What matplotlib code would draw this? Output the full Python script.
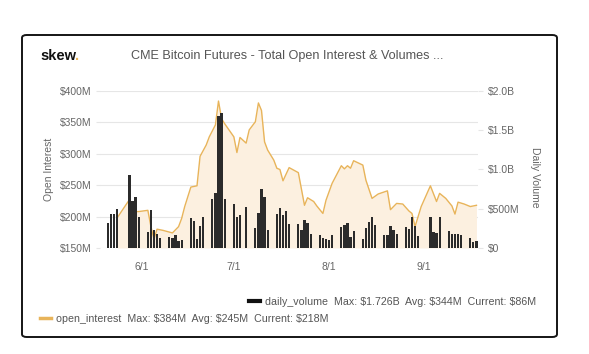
import matplotlib
matplotlib.use('Agg')
import matplotlib.pyplot as plt
from matplotlib.patches import FancyBboxPatch
from matplotlib.lines import Line2D
import pandas as pd

plt.rcParams['font.family'] = ['Liberation Sans', 'DejaVu Sans']

# daily volume ($M), trading days only
vol_dates = [
    '2019-05-21', '2019-05-22', '2019-05-23', '2019-05-24',
    '2019-05-28', '2019-05-29', '2019-05-30', '2019-05-31',
    '2019-06-03', '2019-06-04', '2019-06-05', '2019-06-06', '2019-06-07',
    '2019-06-10', '2019-06-11', '2019-06-12', '2019-06-13', '2019-06-14',
    '2019-06-17', '2019-06-18', '2019-06-19', '2019-06-20', '2019-06-21',
    '2019-06-24', '2019-06-25', '2019-06-26', '2019-06-27', '2019-06-28',
    '2019-07-01', '2019-07-02', '2019-07-03', '2019-07-05',
    '2019-07-08', '2019-07-09', '2019-07-10', '2019-07-11', '2019-07-12',
    '2019-07-15', '2019-07-16', '2019-07-17', '2019-07-18', '2019-07-19',
    '2019-07-22', '2019-07-23', '2019-07-24', '2019-07-25', '2019-07-26',
    '2019-07-29', '2019-07-30', '2019-07-31', '2019-08-01', '2019-08-02',
    '2019-08-05', '2019-08-06', '2019-08-07', '2019-08-08', '2019-08-09',
    '2019-08-12', '2019-08-13', '2019-08-14', '2019-08-15', '2019-08-16',
    '2019-08-19', '2019-08-20', '2019-08-21', '2019-08-22', '2019-08-23',
    '2019-08-26', '2019-08-27', '2019-08-28', '2019-08-29', '2019-08-30',
    '2019-09-03', '2019-09-04', '2019-09-05', '2019-09-06',
    '2019-09-09', '2019-09-10', '2019-09-11', '2019-09-12', '2019-09-13',
    '2019-09-16', '2019-09-17', '2019-09-18',
]
vol_values = [
    323, 437, 429, 501,
    926, 603, 654, 399,
    200, 484, 229, 178, 127,
    140, 132, 170, 93, 102,
    382, 348, 115, 285, 391,
    628, 696, 1686, 1726, 624,
    560, 395, 416, 527,
    255, 442, 756, 654, 229,
    433, 505, 425, 476, 301,
    310, 234, 361, 323, 178,
    166, 123, 119, 106, 170,
    272, 289, 314, 144, 217,
    110, 251, 331, 399, 293,
    166, 161, 280, 225, 178,
    263, 238, 399, 280, 157,
    399, 204, 195, 391,
    221, 178, 178, 174, 170,
    132, 81, 86,
]

# open interest ($M)
oi_dates = [
    '2019-05-24', '2019-05-28', '2019-05-29', '2019-05-31', '2019-06-03',
    '2019-06-04', '2019-06-05', '2019-06-06', '2019-06-08', '2019-06-11',
    '2019-06-13', '2019-06-14', '2019-06-15', '2019-06-17', '2019-06-19',
    '2019-06-20', '2019-06-22', '2019-06-23', '2019-06-25', '2019-06-26',
    '2019-06-27', '2019-06-28', '2019-06-29', '2019-07-01', '2019-07-02',
    '2019-07-03', '2019-07-05', '2019-07-06', '2019-07-08', '2019-07-09',
    '2019-07-10', '2019-07-11', '2019-07-12', '2019-07-14', '2019-07-15',
    '2019-07-16', '2019-07-17', '2019-07-19', '2019-07-22', '2019-07-24',
    '2019-07-25', '2019-07-27', '2019-07-28', '2019-07-30', '2019-07-31',
    '2019-08-02', '2019-08-05', '2019-08-06', '2019-08-07', '2019-08-08',
    '2019-08-09', '2019-08-12', '2019-08-13', '2019-08-15', '2019-08-17',
    '2019-08-20', '2019-08-21', '2019-08-23', '2019-08-25', '2019-08-27',
    '2019-08-28', '2019-08-29', '2019-08-31', '2019-09-03', '2019-09-05',
    '2019-09-06', '2019-09-08', '2019-09-10', '2019-09-11', '2019-09-12',
    '2019-09-14', '2019-09-16', '2019-09-18',
]
oi_values = [
    198, 227, 208, 208, 210,
    184, 164, 180, 178, 174,
    184, 197, 216, 247, 249,
    296, 314, 327, 346, 384,
    356, 348, 341, 327, 302,
    326, 317, 338, 351, 381,
    369, 319, 306, 290, 277,
    275, 257, 278, 270, 218,
    230, 224, 217, 205, 226,
    253, 281, 276, 281, 277,
    289, 282, 258, 229, 236,
    241, 211, 221, 220, 209,
    205, 184, 216, 249, 224,
    237, 229, 217, 204, 223,
    220, 216, 218,
]

oi_ticks = [150, 200, 250, 300, 350, 400]
oi_tick_labels = ['$150M', '$200M', '$250M', '$300M', '$350M', '$400M']
vol_ticks = [0, 500, 1000, 1500, 2000]
vol_tick_labels = ['$0', '$500M', '$1.0B', '$1.5B', '$2.0B']
x_ticks = ['2019-06-01', '2019-07-01', '2019-08-01', '2019-09-01']
x_tick_labels = ['6/1', '7/1', '8/1', '9/1']

vol_d = pd.to_datetime(vol_dates)
oi_d = pd.to_datetime(oi_dates)

W, H = 589, 354
fig = plt.figure(figsize=(W / 100, H / 100), dpi=100)
fig.patch.set_facecolor('white')

card = FancyBboxPatch((22 / W, 1 - 337 / H), (557 - 22) / W, (337 - 35) / H,
                      boxstyle='round,pad=0,rounding_size=0.008',
                      transform=fig.transFigure, fill=False,
                      edgecolor='#151515', linewidth=1.4)
fig.patches.append(card)

line_c = '#E8B45A'
fill_c = '#FCF0E0'
bar_c = '#2B2B2B'
text_c = '#666666'
grid_c = '#E6E6E6'

ax = fig.add_axes([100 / W, 1 - 248 / H, 378 / W, 157 / H])
ax2 = ax.twinx()

# open interest: area + line
ax.fill_between(oi_d, oi_values, 150, color=fill_c, linewidth=0, zorder=1)
oi_line, = ax.plot(oi_d, oi_values, color=line_c, linewidth=1.0, zorder=2)
ax.set_ylim(150, 400)
ax.set_yticks(oi_ticks)
ax.set_yticklabels(oi_tick_labels)
ax.grid(axis='y', color=grid_c, linewidth=0.8)
ax.set_axisbelow(True)

# volume bars
ax2.bar(vol_d, vol_values, width=0.72, color=bar_c, linewidth=0, zorder=3)
ax2.set_ylim(0, 2000)
ax2.set_yticks(vol_ticks)
ax2.set_yticklabels(vol_tick_labels)

ax.set_xlim(pd.Timestamp('2019-05-18 10:00'), pd.Timestamp('2019-09-18 12:00'))
ax.set_xticks(pd.to_datetime(x_ticks))
ax.set_xticklabels(x_tick_labels)

for a in (ax, ax2):
    for s in a.spines.values():
        s.set_visible(False)
ax.tick_params(axis='y', length=3, color=grid_c, pad=3, labelsize=7.5, labelcolor=text_c)
ax2.tick_params(axis='y', length=3.5, color=grid_c, pad=3.5, labelsize=7.5, labelcolor=text_c)
ax.tick_params(axis='x', length=0, pad=10, labelsize=7.5, labelcolor=text_c)

fig.text(49 / W, 1 - 169 / H, 'Open Interest', rotation=90, ha='center', va='center',
         fontsize=7.5, color=text_c)
fig.text(535 / W, 1 - 177 / H, 'Daily Volume', rotation=270, ha='center', va='center',
         fontsize=7.5, color=text_c)

# header
logo = fig.text(40 / W, 1 - 56 / H, 'skew', fontsize=10.5, fontweight='bold',
                color='#111111', ha='left', va='center')
fig.canvas.draw()
bb = logo.get_window_extent()
fig.text((bb.x1 - 1.5) / W, 1 - 56 / H, '.', fontsize=10.5, fontweight='bold',
         color='#E8B45A', ha='left', va='center')
fig.text(131 / W, 1 - 56 / H, 'CME Bitcoin Futures - Total Open Interest & Volumes ...',
         fontsize=9.1, color='#555555', ha='left', va='center')

# legends
vol_handle = Line2D([], [], color='#111111', linewidth=3)
oi_handle = Line2D([], [], color=line_c, linewidth=2.5)
leg1 = fig.legend([vol_handle], ['daily_volume  Max: $1.726B  Avg: $344M  Current: $86M'],
                  loc='center right', bbox_to_anchor=(536 / W, 1 - 302 / H),
                  frameon=False, fontsize=7.7, handlelength=1.0, handletextpad=0.5,
                  borderpad=0, borderaxespad=0)
for t in leg1.get_texts():
    t.set_color('#555555')
leg2 = fig.legend([oi_handle], ['open_interest  Max: $384M  Avg: $245M  Current: $218M'],
                  loc='center left', bbox_to_anchor=(40 / W, 1 - 319 / H),
                  frameon=False, fontsize=7.7, handlelength=1.0, handletextpad=0.5,
                  borderpad=0, borderaxespad=0)
for t in leg2.get_texts():
    t.set_color('#555555')

fig.savefig('out.png', dpi=100)
